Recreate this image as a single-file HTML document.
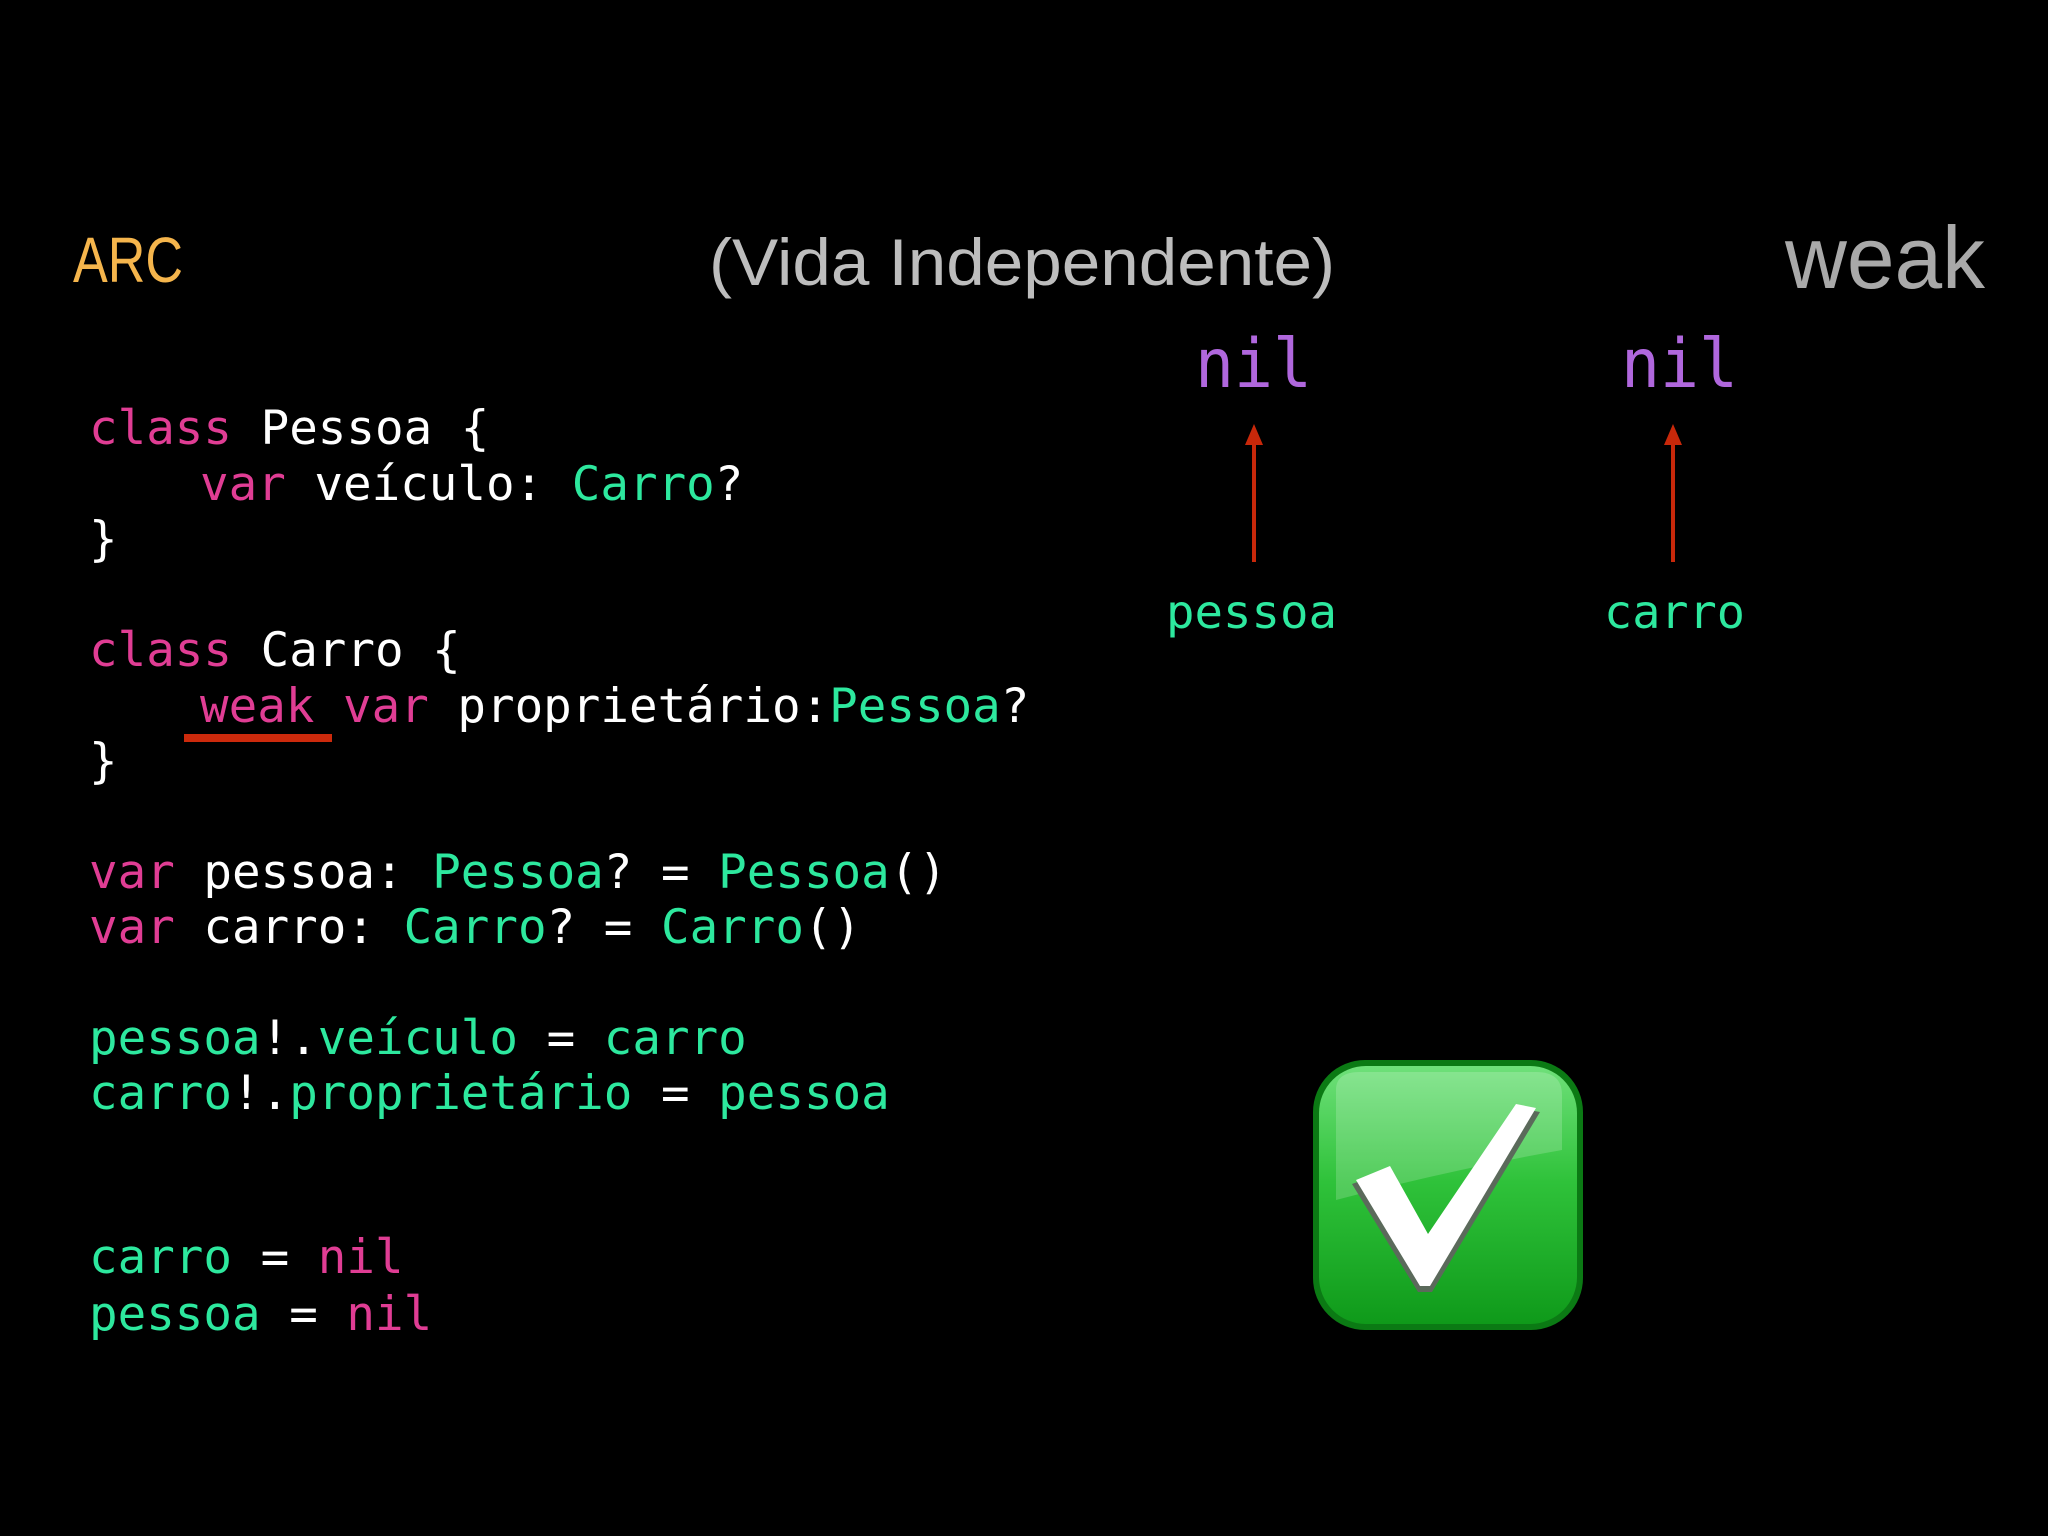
<!DOCTYPE html>
<html><head><meta charset="utf-8"><style>html,body{margin:0;padding:0;background:#000}svg{display:block}.code text{white-space:pre}</style></head><body>
<svg width="2048" height="1536" viewBox="0 0 2048 1536" xmlns="http://www.w3.org/2000/svg">
<rect width="2048" height="1536" fill="#000"/>
<defs>
<linearGradient id="g" x1="0" y1="0" x2="0" y2="1">
<stop offset="0" stop-color="#6fe07a"/><stop offset="0.45" stop-color="#2fc23a"/><stop offset="1" stop-color="#0f9a1a"/>
</linearGradient>
</defs>
<text x="73" y="282" font-family="Liberation Sans, sans-serif" font-size="64" fill="#f5b54c" textLength="110" lengthAdjust="spacingAndGlyphs">ARC</text>
<text x="709" y="285" font-family="Liberation Sans, sans-serif" font-size="66" fill="#bdbdbd" textLength="626" lengthAdjust="spacingAndGlyphs">(Vida Independente)</text>
<text x="1785" y="288" font-family="Liberation Sans, sans-serif" font-size="88" fill="#a9a9a9" textLength="200" lengthAdjust="spacingAndGlyphs">weak</text>

<g font-family="DejaVu Sans Mono, monospace" font-size="68" fill="#b067dd">
<text x="1195" y="387" textLength="117" lengthAdjust="spacingAndGlyphs">nil</text>
<text x="1621" y="387" textLength="117" lengthAdjust="spacingAndGlyphs">nil</text>
</g>
<g stroke="#c8280a" stroke-width="4"><line x1="1254" y1="562" x2="1254" y2="440"/><line x1="1673" y1="562" x2="1673" y2="440"/></g>
<g fill="#c8280a"><polygon points="1254,424 1245,445 1263,445"/><polygon points="1673,424 1664,445 1682,445"/></g>
<g font-family="DejaVu Sans Mono, monospace" font-size="46" fill="#2de89e">
<text x="1166" y="628" textLength="171" lengthAdjust="spacingAndGlyphs">pessoa</text>
<text x="1604" y="628" textLength="141" lengthAdjust="spacingAndGlyphs">carro</text>
</g>

<g class="code" font-family="DejaVu Sans Mono, monospace" font-size="47.5" fill="#ffffff">
<text x="89" y="444"><tspan fill="#e03d94">class</tspan> Pessoa {</text>
<text x="200" y="500"><tspan fill="#e03d94">var</tspan> veículo: <tspan fill="#2de89e">Carro</tspan>?</text>
<text x="89" y="555">}</text>
<text x="89" y="666"><tspan fill="#e03d94">class</tspan> Carro {</text>
<text x="200" y="722"><tspan fill="#e03d94">weak</tspan> <tspan fill="#e03d94">var</tspan> proprietário:<tspan fill="#2de89e">Pessoa</tspan>?</text>
<text x="89" y="777">}</text>
<text x="89" y="888"><tspan fill="#e03d94">var</tspan> pessoa: <tspan fill="#2de89e">Pessoa</tspan>? = <tspan fill="#2de89e">Pessoa</tspan>()</text>
<text x="89" y="943"><tspan fill="#e03d94">var</tspan> carro: <tspan fill="#2de89e">Carro</tspan>? = <tspan fill="#2de89e">Carro</tspan>()</text>
<text x="89" y="1054"><tspan fill="#2de89e">pessoa</tspan>!.<tspan fill="#2de89e">veículo</tspan> = <tspan fill="#2de89e">carro</tspan></text>
<text x="89" y="1109"><tspan fill="#2de89e">carro</tspan>!.<tspan fill="#2de89e">proprietário</tspan> = <tspan fill="#2de89e">pessoa</tspan></text>
<text x="89" y="1273"><tspan fill="#2de89e">carro</tspan> = <tspan fill="#e03d94">nil</tspan></text>
<text x="89" y="1330"><tspan fill="#2de89e">pessoa</tspan> = <tspan fill="#e03d94">nil</tspan></text>
</g>
<rect x="184" y="734" width="148" height="8" fill="#cc2a0c"/>

<rect x="1313" y="1060" width="270" height="270" rx="52" fill="#0b7a14"/>
<rect x="1319" y="1066" width="258" height="258" rx="47" fill="url(#g)"/>
<path d="M1336,1090 Q1336,1072 1360,1072 L1536,1072 Q1562,1072 1562,1095 L1562,1150 Q1450,1170 1336,1200 Z" fill="#ffffff" opacity="0.18"/>
<polygon points="1352,1184 1390,1170 1428,1240 1518,1108 1540,1112 1432,1292 1418,1292" fill="#5b6a5b"/>
<polygon points="1356,1180 1390,1166 1428,1234 1516,1104 1536,1108 1430,1286 1420,1286" fill="#ffffff"/>
</svg>
</body></html>
